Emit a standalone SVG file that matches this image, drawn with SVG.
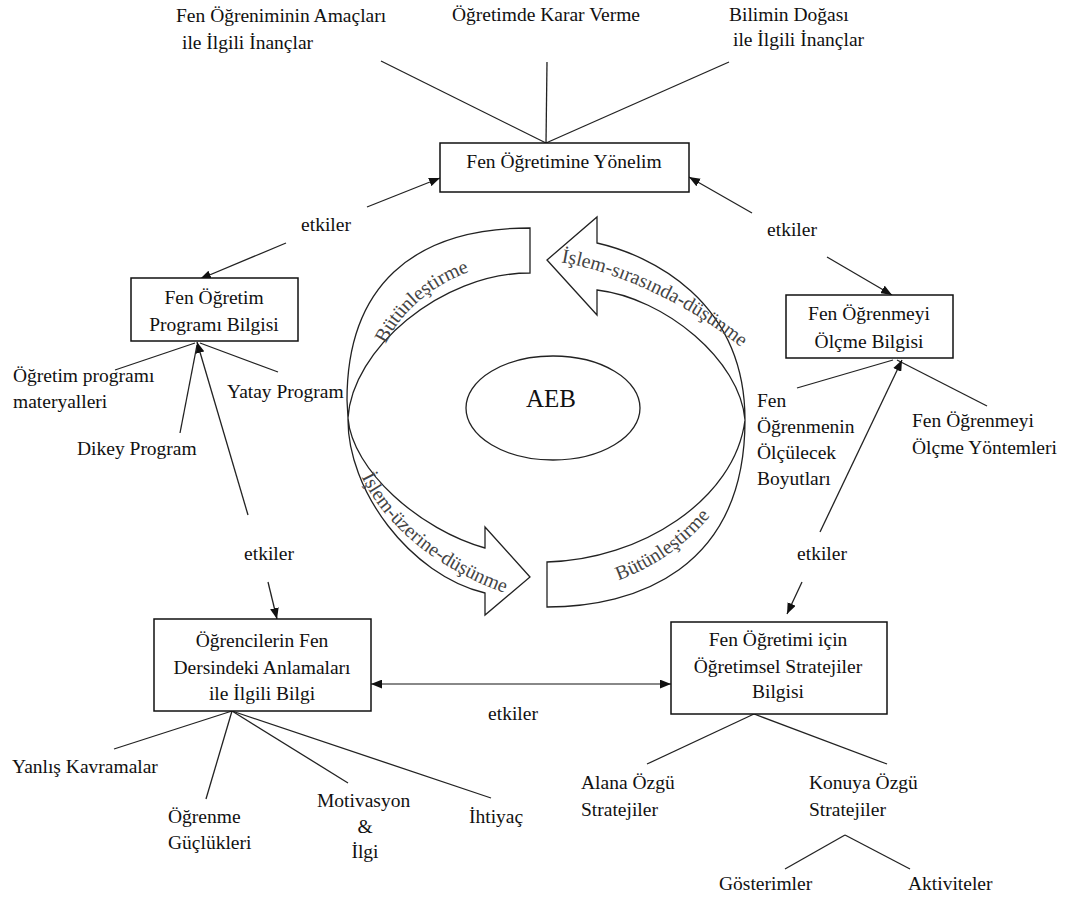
<svg xmlns="http://www.w3.org/2000/svg" width="1072" height="899" viewBox="0 0 1072 899">
<style>
  text { font-family: "Liberation Serif", "Times New Roman", serif; font-size: 19.5px; fill: #111; }
  .c { text-anchor: middle; }
  .box { fill: #fff; stroke: #111; stroke-width: 1.5; }
  .ln { stroke: #222; stroke-width: 1.3; fill: none; }
  .ar { stroke: #222; stroke-width: 1.3; fill: none; marker-end: url(#ah); }
  .band { fill: #fff; stroke: #222; stroke-width: 1.3; }
  .bt { font-size: 20px; fill: #444; }
</style>
<defs>
  <marker id="ah" viewBox="0 0 10 8" refX="10" refY="4" markerWidth="11" markerHeight="9" markerUnits="userSpaceOnUse" orient="auto-start-reverse">
    <path d="M0,0 L10,4 L0,8 Z" fill="#111"/>
  </marker>
  <path id="tp1" d="M372,398 C376,316 444,266 524,260"/>
  <path id="tp2" d="M560,262 C620,272 690,305 742,348"/>
  <path id="tp3" d="M355,462 C380,528 445,575 520,598"/>
  <path id="tp4" d="M600,586 C640,576 690,548 722,500"/>
</defs>
<rect width="1072" height="899" fill="#fff"/>

<g id="connectors">
  <line class="ln" x1="381" y1="61" x2="546" y2="143"/>
  <line class="ln" x1="547" y1="62" x2="546" y2="143"/>
  <line class="ln" x1="729" y1="62" x2="546" y2="143"/>
  <line class="ar" x1="367" y1="207" x2="440" y2="178"/>
  <line class="ar" x1="286" y1="243" x2="200" y2="279"/>
  <line class="ar" x1="752" y1="213" x2="689" y2="177"/>
  <line class="ar" x1="827" y1="257" x2="892" y2="295"/>
  <line class="ln" x1="195" y1="343" x2="115" y2="370"/>
  <line class="ln" x1="197" y1="345" x2="180" y2="433"/>
  <line class="ln" x1="200" y1="343" x2="278" y2="372"/>
  <line class="ar" x1="248" y1="515" x2="197" y2="342"/>
  <line class="ar" x1="268" y1="582" x2="277" y2="619"/>
  <line class="ln" x1="893" y1="360" x2="797" y2="388"/>
  <line class="ln" x1="897" y1="360" x2="987" y2="406"/>
  <line class="ar" x1="820" y1="532" x2="902" y2="360"/>
  <line class="ar" x1="802" y1="582" x2="787" y2="614"/>
  <line x1="371" y1="684" x2="671" y2="684" stroke="#888" stroke-width="2.2" marker-start="url(#ah)" marker-end="url(#ah)"/>
  <line class="ln" x1="232" y1="711" x2="114" y2="749"/>
  <line class="ln" x1="232" y1="711" x2="206" y2="799"/>
  <line class="ln" x1="232" y1="711" x2="348" y2="783"/>
  <line class="ln" x1="232" y1="711" x2="491" y2="798"/>
  <line class="ln" x1="754" y1="714" x2="647" y2="764"/>
  <line class="ln" x1="754" y1="714" x2="887" y2="764"/>
  <line class="ln" x1="845" y1="835" x2="785" y2="869"/>
  <line class="ln" x1="845" y1="835" x2="910" y2="869"/>
</g>

<g id="labels">
  <text x="176" y="22">Fen Öğreniminin Amaçları</text>
  <text x="182" y="49">ile İlgili İnançlar</text>
  <text class="c" x="546" y="21">Öğretimde Karar Verme</text>
  <text x="729" y="21">Bilimin Doğası</text>
  <text x="733" y="46">ile İlgili İnançlar</text>
  <text class="c" x="326" y="231">etkiler</text>
  <text class="c" x="792" y="236">etkiler</text>
  <text class="c" x="269" y="560">etkiler</text>
  <text class="c" x="822" y="560">etkiler</text>
  <text class="c" x="513" y="720">etkiler</text>
  <text x="13" y="382">Öğretim programı</text>
  <text x="13" y="408">materyalleri</text>
  <text x="77" y="455">Dikey Program</text>
  <text x="227" y="398">Yatay Program</text>
  <text x="757" y="407">Fen</text>
  <text x="757" y="433">Öğrenmenin</text>
  <text x="757" y="459">Ölçülecek</text>
  <text x="757" y="485">Boyutları</text>
  <text x="912" y="427">Fen Öğrenmeyi</text>
  <text x="912" y="454">Ölçme Yöntemleri</text>
  <text x="12" y="773">Yanlış Kavramalar</text>
  <text x="168" y="823">Öğrenme</text>
  <text x="168" y="849">Güçlükleri</text>
  <text x="317" y="807">Motivasyon</text>
  <text class="c" x="365" y="833">&amp;</text>
  <text class="c" x="365" y="858">İlgi</text>
  <text x="469" y="823">İhtiyaç</text>
  <text x="581" y="789">Alana Özgü</text>
  <text x="581" y="816">Stratejiler</text>
  <text x="809" y="789">Konuya Özgü</text>
  <text x="809" y="816">Stratejiler</text>
  <text x="719" y="890">Gösterimler</text>
  <text x="908" y="890">Aktiviteler</text>
</g>

<g id="cycle">
  <path class="band" d="M530,228 C411,228 347,288 347,400 L348,418 C352,350 440,273 530,273 Z"/>
  <path class="band" d="M547,260 L597,217 L597,243 C650,255 745,300 745,420 C740,360 665,298 597,290 L597,315 Z"/>
  <path class="band" d="M547,562 C640,560 735,500 745,420 C745,570 635,607 547,607 Z"/>
  <path class="band" d="M348,418 C352,470 420,530 485,548 L485,527 L530,577 L485,615 L485,593 C410,575 347,490 348,418 Z"/>
  <text class="bt"><textPath href="#tp1" startOffset="50%" text-anchor="middle">Bütünleştirme</textPath></text>
  <text class="bt"><textPath href="#tp2" startOffset="50%" text-anchor="middle">İşlem-sırasında-düşünme</textPath></text>
  <text class="bt"><textPath href="#tp3" startOffset="50%" text-anchor="middle">İşlem-üzerine-düşünme</textPath></text>
  <text class="bt"><textPath href="#tp4" startOffset="50%" text-anchor="middle">Bütünleştirme</textPath></text>
</g>

<g id="aeb">
  <ellipse cx="553" cy="408" rx="87" ry="52" fill="#fff" stroke="#222" stroke-width="1.3"/>
  <text class="c" x="551" y="407" style="font-size:25px">AEB</text>
</g>

<g id="yonelim">
  <rect class="box" x="440" y="143" width="249" height="49"/>
  <text class="c" x="564" y="168">Fen Öğretimine Yönelim</text>
</g>

<g id="program">
  <rect class="box" x="131" y="278" width="167" height="63"/>
  <text class="c" x="214" y="304">Fen Öğretim</text>
  <text class="c" x="214" y="331">Programı Bilgisi</text>
</g>

<g id="olcme">
  <rect class="box" x="786" y="295" width="167" height="63"/>
  <text class="c" x="869" y="320">Fen Öğrenmeyi</text>
  <text class="c" x="869" y="348">Ölçme Bilgisi</text>
</g>

<g id="ogrenciler">
  <rect class="box" x="154" y="619" width="217" height="92"/>
  <text class="c" x="262" y="647">Öğrencilerin Fen</text>
  <text class="c" x="262" y="674">Dersindeki Anlamaları</text>
  <text class="c" x="262" y="700">ile İlgili Bilgi</text>
</g>

<g id="stratejiler">
  <rect class="box" x="671" y="622" width="216" height="92"/>
  <text class="c" x="778" y="646">Fen Öğretimi için</text>
  <text class="c" x="778" y="673">Öğretimsel Stratejiler</text>
  <text class="c" x="778" y="698">Bilgisi</text>
</g>
</svg>
